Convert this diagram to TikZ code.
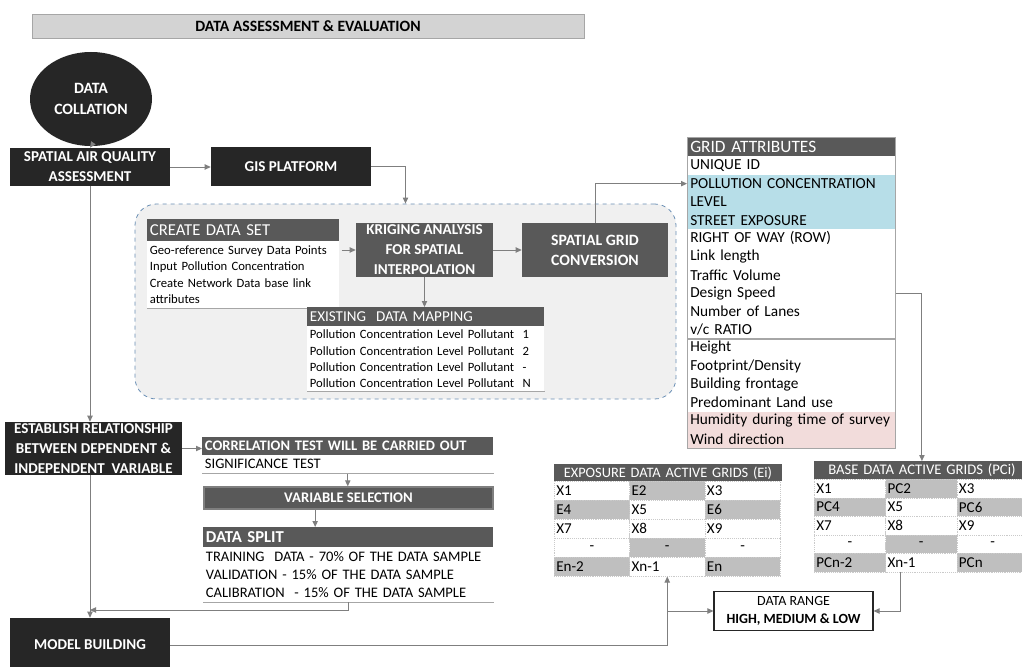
\documentclass[tikz,border=0pt]{standalone}
\usepackage{fontspec}
\setmainfont{Carlito}
\usetikzlibrary{arrows.meta,shapes.geometric}

\definecolor{boxblack}{HTML}{262626}
\definecolor{boxgray}{HTML}{595959}
\definecolor{titlefill}{HTML}{D3D3D3}
\definecolor{titleline}{HTML}{A6A6A6}
\definecolor{zonefill}{HTML}{F0F0F0}
\definecolor{zoneline}{HTML}{6A8FB5}
\definecolor{rulegray}{HTML}{A6A6A6}
\definecolor{cellgray}{HTML}{BFBFBF}
\definecolor{cellblue}{HTML}{B7DEE8}
\definecolor{cellpink}{HTML}{F2DCDB}
\definecolor{wire}{HTML}{7F7F7F}

\tikzset{
  sz/.style 2 args={minimum width=#1*0.75pt, minimum height=#2*0.75pt},
  darkbox/.style={fill=boxblack, text=white, inner sep=0pt, align=center,
    font=\fontsize{11.3}{15}\selectfont\bfseries},
  graybox/.style={fill=boxgray, text=white, inner sep=0pt, align=center,
    font=\fontsize{11.3}{15}\selectfont\bfseries},
  headbar/.style={fill=boxgray, text=white, inner ysep=0pt, inner xsep=2pt,
    anchor=north west, align=left},
  bodytext/.style={fill=white, anchor=north west, inner xsep=2pt, inner ysep=1pt,
    align=left, font=\fontsize{9.5}{12.3}\selectfont},
  garow/.style={anchor=north west, minimum height=18.25*0.75pt, text width=151.5pt,
    inner xsep=2.25pt, inner ysep=0pt, align=left, font=\fontsize{11.5}{12}\selectfont},
  cell/.style={anchor=north west, inner xsep=1.5pt, inner ysep=0pt,
    draw=rulegray!60, densely dotted, font=\fontsize{11.3}{12}\selectfont},
  cell0/.style={cell, fill=white},
  cell1/.style={cell, fill=cellgray},
  wireline/.style={draw=wire, line width=0.7pt},
  arr/.style={wireline, -{Triangle[length=4.5pt,width=4pt]}},
  baseline rule/.style={draw=rulegray, line width=0.9pt},
}

\begin{document}
\begin{tikzpicture}[x=0.75pt, y=-0.75pt]
\clip (0,0) rectangle (1022,667);
\fill[white] (0,0) rectangle (1022,667);

% title bar
\node[sz={552}{24}, fill=titlefill, draw=titleline, line width=0.6pt,
  font=\fontsize{11.8}{13}\selectfont\bfseries] (title) at (308,26)
  {DATA ASSESSMENT \& EVALUATION};

% start ellipse and main column
\node[ellipse, sz={122}{94}, darkbox, font=\fontsize{11.8}{16}\selectfont\bfseries] (dc) at (91,99) {DATA\\COLLATION};
\node[darkbox, sz={160}{38}] (saq) at (90,167) {SPATIAL AIR QUALITY\\ASSESSMENT};
\node[darkbox, sz={160}{38}] (gis) at (291,166.5) {GIS PLATFORM};

% GIS processing zone
\node[sz={541}{195}, fill=zonefill, draw=zoneline, dashed, line width=0.6pt,
  rounded corners=16pt] (zone) at (405.5,301.5) {};

\node[headbar, text width=139.5pt, minimum height=16.5pt,
  font=\fontsize{12.5}{13}\selectfont] (cdsh) at (147,219) {CREATE DATA SET};
\node[bodytext, text width=139.5pt, minimum height=50pt] (cdsb) at (147,241)
  {Geo-reference Survey Data Points\\Input Pollution Concentration\\Create Network Data base link\\attributes};
\draw[baseline rule] (cdsb.south west) -- (cdsb.south east);

\node[graybox, sz={137}{54}] (krig) at (424.5,250) {KRIGING ANALYSIS\\FOR SPATIAL\\INTERPOLATION};
\node[graybox, sz={146}{54}, font=\fontsize{11.8}{15}\selectfont\bfseries] (sgc) at (595,250) {SPATIAL GRID\\CONVERSION};

\node[headbar, text width=173.75pt, minimum height=14.25pt,
  font=\fontsize{11.3}{12}\selectfont] (edmh) at (307,307) {EXISTING\ \ DATA MAPPING};
\node[bodytext, text width=173.75pt, minimum height=49pt] (edmb) at (307,326)
  {Pollution Concentration Level Pollutant\ \ 1\\
   Pollution Concentration Level Pollutant\ \ 2\\
   Pollution Concentration Level Pollutant\ \ -\\
   Pollution Concentration Level Pollutant\ \ N};
\draw[baseline rule] (edmb.south west) -- (edmb.south east);

% grid attribute table
\node[headbar, text width=151.5pt, minimum height=14.25pt, inner xsep=2.25pt,
  font=\fontsize{13}{13}\selectfont] (gah) at (687,137) {GRID ATTRIBUTES};
\foreach \txt/\tone [count=\i] in {
  UNIQUE ID/white, POLLUTION CONCENTRATION/cellblue, LEVEL/cellblue,
  STREET EXPOSURE/cellblue, RIGHT OF WAY (ROW)/white, Link length/white,
  Traffic Volume/white, Design Speed/white, Number of Lanes/white,
  {v/c RATIO}/white, Height/white, {Footprint/Density}/white,
  Building frontage/white, Predominant Land use/white,
  Humidity during time of survey/cellpink, Wind direction/cellpink} {
  \node[garow, fill=\tone] (ga\i) at (687,{156+(\i-1)*18.25}) {\txt};
}
\draw[rulegray, line width=0.6pt] (gah.north west) rectangle (ga16.south east);
\draw[rulegray, line width=1.2pt] (ga10.south west) -- (ga10.south east);
\draw[rulegray, line width=1.2pt] (ga16.south west) -- (ga16.south east);

% relationship branch
\node[darkbox, sz={177}{53}, font=\fontsize{11.3}{15}\selectfont\bfseries] (est) at (93.5,448.5)
  {ESTABLISH RELATIONSHIP\\BETWEEN DEPENDENT \&\\INDEPENDENT\ \ VARIABLE};

\node[headbar, text width=214.25pt, minimum height=13.5pt,
  font=\fontsize{10.9}{12}\selectfont\bfseries] (corrh) at (202,437) {CORRELATION TEST WILL BE CARRIED OUT};
\node[bodytext, text width=214.25pt, minimum height=13.5pt, inner ysep=0pt,
  font=\fontsize{10.9}{12}\selectfont] (corrb) at (202,455) {SIGNIFICANCE TEST};
\draw[baseline rule] (corrb.south west) -- (corrb.south east);

\node[graybox, sz={289}{22}, draw=wire, line width=1pt,
  font=\fontsize{11}{12}\selectfont\bfseries] (vs) at (348.5,498) {VARIABLE SELECTION};

\node[headbar, text width=213.5pt, minimum height=15pt,
  font=\fontsize{12.5}{13}\selectfont\bfseries] (dsh) at (203,527) {DATA SPLIT};
\node[bodytext, text width=213.5pt, minimum height=41pt,
  font=\fontsize{10.9}{13.5}\selectfont] (dsb) at (203,547)
  {TRAINING\ \ DATA - 70\% OF THE DATA SAMPLE\\
   VALIDATION - 15\% OF THE DATA SAMPLE\\
   CALIBRATION\ \ - 15\% OF THE DATA SAMPLE};
\draw[baseline rule] (dsb.south west) -- (dsb.south east);

\node[darkbox, sz={160}{54}] (mb) at (90,645) {MODEL BUILDING};

% exposure grid table
\node[headbar, text width=166.5pt, minimum height=12.75pt, align=center,
  font=\fontsize{10.8}{12}\selectfont] (eh) at (554,464) {EXPOSURE DATA ACTIVE\ GRIDS (Ei)};
\foreach \txt/\shade/\al [count=\k from 0] in {
  X1/0/left, E2/1/left, X3/0/left, E4/1/left, X5/0/left, E6/1/left,
  X7/0/left, X8/0/left, X9/0/left, -/0/center, -/1/center, -/0/center,
  En-2/1/left, Xn-1/0/left, En/1/left} {
  \pgfmathtruncatemacro\r{div(\k,3)}
  \pgfmathtruncatemacro\c{mod(\k,3)}
  \node[cell\shade, align=\al, text width=53.5pt, minimum height=14.25pt] (e\k)
    at ({554+\c*75.33},{481+\r*19}) {\txt};
}

% base grid table
\node[headbar, text width=157.5pt, minimum height=13.5pt, align=center,
  font=\fontsize{11}{12}\selectfont] (bh) at (814,461) {BASE DATA ACTIVE\ GRIDS (PCi)};
\foreach \txt/\shade/\al [count=\k from 0] in {
  X1/0/left, PC2/1/left, X3/0/left, PC4/1/left, X5/0/left, PC6/1/left,
  X7/0/left, X8/0/left, X9/0/left, -/0/center, -/1/center, -/0/center,
  PCn-2/1/left, Xn-1/0/left, PCn/1/left} {
  \pgfmathtruncatemacro\r{div(\k,3)}
  \pgfmathtruncatemacro\c{mod(\k,3)}
  \node[cell\shade, align=\al, text width=50.5pt, minimum height=13.875pt] (b\k)
    at ({814+\c*71.33},{479+\r*18.5}) {\txt};
}

% data range
\node[sz={159}{38}, draw=boxblack, line width=0.8pt, fill=white, align=center,
  font=\fontsize{10.5}{14}\selectfont] (dr) at (793.5,611)
  {DATA RANGE\\\textbf{HIGH, MEDIUM \& LOW}};

% connectors
\draw[arr] (dc.south) -- (saq.north);
\draw[arr] (saq.east) -- (saq.east -| gis.west);
\draw[arr] (gis.east) -| (zone.north);
\draw[arr] ([xshift=2pt]cdsb.east |- krig.west) -- (krig.west);
\draw[arr] (krig.east) -- (sgc.west);
\draw[arr] (sgc.north) |- (ga2.west);
\draw[arr] (krig.south) -- (krig.south |- edmh.north);
\draw[arr] (ga8.east) -| (bh.north);
\draw[arr] (saq.south) -- (saq.south |- est.north);
\draw[arr] (est.east) -- (est.east -| corrh.west);
\draw[arr] (corrb.south) -- (corrb.south |- vs.north);
\draw[arr] ([xshift=-25pt]vs.south) -- ([xshift=-25pt]vs.south |- dsh.north);
\coordinate (join) at (90,610);
\draw[arr] (dsb.south) |- (join);
\draw[arr] (saq.south |- est.south) -- (mb.north);
\draw[arr] (mb.east) -| (e13.south);
\draw[arr] (e13.south |- dr.west) -- (dr.west);
\draw[arr] ([xshift=-15.75pt]b13.south) |- (dr.east);
\end{tikzpicture}
\end{document}
